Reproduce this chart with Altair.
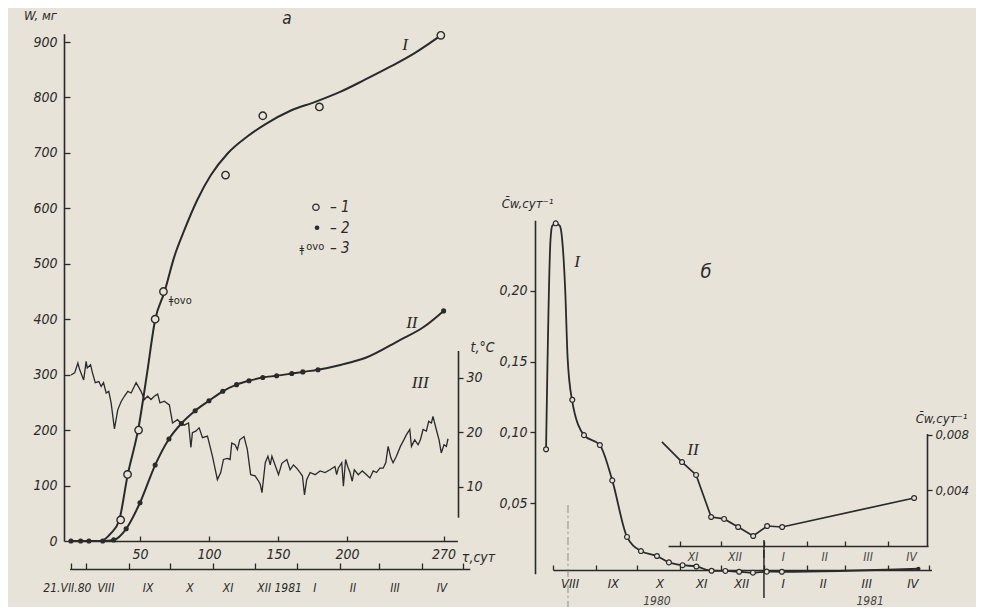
import altair as alt
import pandas as pd

# ---------------- data ----------------
# Panel a: growth curves, W (mg) vs tau (days since 21.VII.80)
I_PTS_DAY = [36, 41, 49, 61, 67, 112, 139, 180, 268]
I_PTS_W = [38, 120, 200, 400, 450, 660, 767, 783, 912]
I_FIT_DAY = [0, 21, 25, 29, 35, 41, 49, 55, 61, 67.6, 74.9, 82.2, 91.5, 101.4, 113.5, 128, 141, 159, 177, 195, 213, 231, 249, 260, 268]
I_FIT_W = [0, 0, 4, 14, 38, 118, 205, 300, 399, 448, 513, 561, 615, 660, 699, 730, 752, 776, 792, 810, 832, 855, 880, 898, 912]

II_PTS_DAY = [0, 7, 13, 23, 31, 40, 50, 61, 71, 80, 90, 100, 110, 120, 129, 139, 149, 160, 168, 179, 270]
II_PTS_W = [0, 0, 0, 0, 2, 22, 69, 137, 184, 212, 235, 253, 270, 282, 289, 295, 298, 302, 305, 309, 415]
II_FIT_DAY = [0, 23, 31, 40, 50, 61, 71, 80, 90, 100, 110, 120, 129, 139, 149, 160, 168, 179, 196, 214, 238, 255, 270]
II_FIT_W = [0, 0, 2, 22, 69, 137, 184, 212, 235, 253, 270, 282, 289, 295, 298, 302, 305, 309, 318, 331, 362, 385, 415]

# Curve III: air temperature t (deg C)
TEMP = [(0, 30.5), (2.7, 30.9), (5, 32.7), (6.3, 31.5), (9.2, 29.6), (11, 33), (11.8, 31.8),
        (14.2, 32.4), (15.6, 30.9), (17.6, 29.1), (20.2, 29.3), (21.9, 28.4), (23.6, 29.1),
        (25.5, 27.2), (27.4, 27.5), (29.1, 25.4), (31.5, 20.6), (33.9, 24.1), (36.3, 25.6),
        (38.7, 26.6), (41.2, 27.5), (43.6, 27.2), (47.2, 29.1), (50.8, 27.5), (53.2, 26),
        (55.6, 26.6), (58, 26), (60.4, 26.6), (62.8, 27), (64.5, 25.4), (67.6, 25.7), (71.3, 25),
        (73.6, 21.7), (77.2, 22.3), (79.6, 21.7), (82, 21.3), (85.2, 21.7), (86.9, 17.2),
        (88, 19.9), (90.4, 20.2), (92.9, 20.8), (95.3, 19), (98.9, 19.3), (102.5, 15.6),
        (106.1, 11.3), (108.5, 12.6), (110.5, 15), (113.4, 15.2), (115.3, 15), (116.5, 18),
        (118.9, 17.7), (120.6, 16.8), (122.3, 18.6), (125.4, 19.2), (127.8, 16.8), (130.2, 12.2),
        (133.4, 12), (136, 11), (137.2, 10.4), (138.4, 8.9), (140.8, 14.4), (142.7, 15.6),
        (144.4, 14), (145.6, 15.6), (148, 13.9), (150.4, 12.2), (152.8, 14.3), (156.4, 15),
        (158.8, 13.1), (161.2, 14), (163.6, 13.4), (166, 12.6), (167.7, 12), (169.2, 8.5),
        (170.8, 11.3), (173.3, 12.6), (176.9, 12.2), (180.5, 12.9), (184.1, 12.6), (187.7, 13.1),
        (191.3, 13.7), (192.5, 12.2), (193.7, 13.4), (196.2, 14.4), (197.4, 10.1), (199, 15),
        (200.5, 13.7), (202.2, 12.6), (203.8, 11), (205.3, 13.1), (208.2, 12.2), (211.1, 12.9),
        (214.2, 12.2), (216.6, 11.6), (219, 12.9), (221.4, 12.6), (223.8, 13.4), (226.2, 13.4),
        (228.1, 14.4), (229.8, 17.4), (231.8, 15.3), (233.4, 14.4), (235.8, 15.6), (238.7, 17.4),
        (241.2, 18.6), (243, 19.5), (245.5, 20.5), (246.7, 17.4), (249.1, 18.6), (251.5, 17.7),
        (253.2, 18.6), (255.1, 20.5), (257.5, 20.2), (259.2, 22), (261.2, 21.7), (262.3, 22.9),
        (264.7, 20.5), (266.7, 18.6), (268.3, 16.2), (270.3, 17.7), (272, 17.4), (273.2, 18.8)]

# Panel b: specific growth rate C_w (1/day)
B_PTS_DAY = [6, 13, 25, 33.5, 45, 54, 64.7, 74.8, 86.4, 95.1, 105, 115, 126, 136, 146, 156, 166, 177]
B_PTS_C = [0.088, 0.2478, 0.123, 0.098, 0.091, 0.066, 0.026, 0.016, 0.0125, 0.008, 0.006, 0.0051,
           0.0021, 0.00195, 0.00137, 0.00072, 0.00144, 0.00137]
B_LINE_DAY = [6, 9.2, 10.5, 13, 16, 17.6, 19.9, 21.6, 24.8, 33.5, 45, 54, 64.7, 74.8, 86.4, 95.1,
              105, 115, 126, 136, 146, 156, 166, 177, 276]
B_LINE_C = [0.088, 0.236, 0.246, 0.2478, 0.246, 0.237, 0.2, 0.153, 0.123, 0.098, 0.091, 0.066, 0.026,
            0.016, 0.0125, 0.008, 0.006, 0.0051, 0.0021, 0.00195, 0.00137, 0.00072, 0.00144, 0.00137, 0.0035]
B_END_DAY = [276]
B_END_C = [0.0035]

# Inset (curve II of panel b), enlarged scale
IN_LINE_DAY = [90, 104.6, 114.8, 125.7, 135.1, 145.3, 156.2, 166.3, 177.2, 272.9]
IN_LINE_C = [0.0075, 0.00605, 0.00512, 0.00209, 0.00195, 0.00137, 0.00072, 0.00144, 0.00137, 0.00346]
IN_PTS_DAY = [104.6, 114.8, 125.7, 135.1, 145.3, 156.2, 166.3, 177.2, 272.9]
IN_PTS_C = [0.00605, 0.00512, 0.00209, 0.00195, 0.00137, 0.00072, 0.00144, 0.00137, 0.00346]

# Calendar labels
MONTH_TICKS_A = [0, 11, 42, 72, 103, 133, 164, 195, 223, 254, 284]
MONTH_A_TEXT = ["21.VII.80", "VIII", "IX", "X", "XI", "XII 1981", "I", "II", "III", "IV"]
MONTH_A_DAY = [-2.6, 25.3, 55.8, 86.2, 113.8, 151.2, 176.8, 204.3, 234.8, 268.8]
MONTH_TICKS_B = [11, 42, 72, 103, 133, 164, 195, 223, 254, 284]
MONTH_B_TEXT = ["VIII", "IX", "X", "XI", "XII", "I", "II", "III", "IV"]
MONTH_B_DAY = [23.4, 54.8, 88.6, 118.8, 147.8, 178, 207, 238.5, 272]
MONTH_IN_TICKS = [103, 133, 164, 195, 223, 254]
MONTH_IN_TEXT = ["XI", "XII", "I", "II", "III", "IV"]
MONTH_IN_DAY = [112.6, 143, 178, 208, 239.5, 271]
YEAR_TEXT = ["1980", "1981"]
YEAR_DAY = [86.4, 241]
NEW_YEAR_DAY = [164]

# ---------------- style ----------------
BG = "#e7e3d8"
INK = "#2a2a2a"
SANS = "Liberation Sans Narrow, DejaVu Sans Condensed, Roboto Condensed, Liberation Sans, sans-serif"
SERIF = "Liberation Serif, DejaVu Serif, serif"
M = 8  # page margin -> plot coordinates


def sc(dom, rng):
    return alt.Scale(domain=dom, range=[r - M for r in rng], nice=False, zero=False)


# scales (range in page pixels)
XA = sc([-2, 280], [68.2, 457.4])
XAM = sc([-1, 289], [69.6, 469.8])
YW = sc([0, 915], [541, 33.7])
YT = sc([4.4, 35], [517.2, 350.5])
XB = sc([0, 290], [537.8, 937.7])
XBM = sc([11, 285.5], [553, 931.5])
XBI = sc([94.5, 283], [668.1, 928.1])
YB = sc([0, 0.25], [573.7, 220.2])
YI = sc([0, 0.0081], [546, 433.6])

W_PLOT, H_PLOT = 968, 599

AX = dict(labelFont=SANS, labelFontStyle="italic", labelColor=INK, labelFontSize=14,
          domainColor=INK, tickColor=INK, domainWidth=1.6, tickWidth=1.3, grid=False,
          titleFont=SANS, titleFontStyle="italic", titleFontWeight="normal", titleColor=INK,
          titleFontSize=13, titleAngle=0)


def ax(**kw):
    return alt.Axis(**{**AX, **kw})


def nx(field, scale):
    return alt.X(field, type="quantitative", scale=scale, axis=None)


def ny(field, scale):
    return alt.Y(field, type="quantitative", scale=scale, axis=None)


def df(**cols):
    return pd.DataFrame(cols)


layers = []

# ---- panel a ----
layers.append(
    alt.Chart(df(d=I_FIT_DAY, w=I_FIT_W)).mark_line(color=INK, strokeWidth=2, interpolate="monotone").encode(
        x=alt.X("d:Q", scale=XA, axis=ax(
            orient="bottom", offset=541 - M - H_PLOT, values=[50, 100, 150, 200, 270],
            ticks=False, labelPadding=6, title="τ,сут", titleX=478 - M, titleY=16,
            titleAlign="center", titleBaseline="middle", titleFontSize=14)),
        y=alt.Y("w:Q", scale=YW, axis=ax(
            orient="left", offset=-(64 - M), values=list(range(0, 1000, 100)),
            ticks=False, labelPadding=7, title="W, мг", titleX=-24, titleY=15 - M,
            titleAlign="center", titleBaseline="middle")),
        order="d:Q",
    )
)
# inward ticks of the W and tau axes
layers.append(
    alt.Chart(df(d=II_FIT_DAY, w=II_FIT_W)).mark_line(color=INK, strokeWidth=2, interpolate="monotone").encode(
        x=alt.X("d:Q", scale=XA, axis=ax(
            orient="top", offset=-(541 - M), values=[50, 100, 150, 200, 270], labels=False,
            domain=False, tickSize=5, title=None)),
        y=alt.Y("w:Q", scale=YW, axis=ax(
            orient="right", offset=(64 - M) - W_PLOT, values=list(range(0, 1000, 100)),
            labels=False, domain=False, tickSize=6, title=None)),
        order="d:Q")
)
layers.append(
    alt.Chart(pd.DataFrame(TEMP, columns=["d", "t"])).mark_line(color=INK, strokeWidth=1.3).encode(
        x=nx("d", XA),
        y=alt.Y("t:Q", scale=YT, axis=ax(
            orient="right", offset=(458 - M) - W_PLOT, values=[10, 20, 30], tickSize=5,
            labelPadding=3, title="t,°C", titleX=24, titleY=347 - M,
            titleAlign="center", titleBaseline="middle", titleFontSize=14)),
        order="d:Q",
    )
)
layers.append(
    alt.Chart(df(d=II_PTS_DAY, w=II_PTS_W)).mark_point(filled=True, color=INK, size=26, opacity=1).encode(
        x=nx("d", XA), y=ny("w", YW))
)
layers.append(
    alt.Chart(df(d=I_PTS_DAY, w=I_PTS_W)).mark_point(filled=True, fill=BG, stroke=INK, strokeWidth=1.4,
                                                     size=55, opacity=1).encode(
        x=nx("d", XA), y=ny("w", YW))
)
# calendar axis under panel a
layers.append(
    alt.Chart(df(d=MONTH_A_DAY, w=[-85] * len(MONTH_A_DAY), txt=MONTH_A_TEXT)).mark_text(
        font=SANS, fontStyle="italic", fontSize=12, color=INK, baseline="middle", align="center").encode(
        x=alt.X("d:Q", scale=XAM, axis=ax(
            orient="top", offset=-(569 - M), values=MONTH_TICKS_A, labels=False, title=None,
            tickSize=6)),
        y=ny("w", YW), text="txt:N")
)
# annotations panel a (curve numbers, panel letter)
layers.append(
    alt.Chart(df(d=[242, 247, 253], w=[895, 393, 285], txt=["I", "II", "III"])).mark_text(
        font=SERIF, fontStyle="italic", fontSize=17, color=INK).encode(
        x=nx("d", XA), y=ny("w", YW), text="txt:N")
)
layers.append(
    alt.Chart(df(d=[156.5], w=[933], txt=["а"])).mark_text(
        font=SANS, fontStyle="italic", fontSize=17, color=INK, baseline="alphabetic").encode(
        x=nx("d", XA), y=ny("w", YW), text="txt:N")
)
# legend
layers.append(
    alt.Chart(df(d=[177.5], w=[602])).mark_point(filled=True, fill=BG, stroke=INK, strokeWidth=1.3,
                                                 size=40, opacity=1).encode(x=nx("d", XA), y=ny("w", YW))
)
layers.append(
    alt.Chart(df(d=[178.3], w=[565])).mark_point(filled=True, color=INK, size=22, opacity=1).encode(
        x=nx("d", XA), y=ny("w", YW))
)
layers.append(
    alt.Chart(df(d=[187.7, 187.7, 187.7], w=[602, 565, 528], txt=["– 1", "– 2", "– 3"])).mark_text(
        font=SANS, fontStyle="italic", fontSize=15, color=INK, align="left", baseline="middle").encode(
        x=nx("d", XA), y=ny("w", YW), text="txt:N")
)
layers.append(
    alt.Chart(df(d=[167.2, 72.5], w=[524, 433], txt=["ǂ", "ǂ"])).mark_text(
        font=SANS, fontSize=11, color=INK, align="center", baseline="middle").encode(
        x=nx("d", XA), y=ny("w", YW), text="txt:N")
)
layers.append(
    alt.Chart(df(d=[170.5, 74.5], w=[530, 433], txt=["ovo", "ovo"])).mark_text(
        font=SANS, fontSize=11, color=INK, align="left", baseline="middle").encode(
        x=nx("d", XA), y=ny("w", YW), text="txt:N")
)

# ---- panel b ----
layers.append(
    alt.Chart(df(d=B_LINE_DAY, c=B_LINE_C)).mark_line(color=INK, strokeWidth=1.8, interpolate="monotone").encode(
        x=nx("d", XB),
        y=alt.Y("c:Q", scale=YB, axis=ax(
            orient="left", offset=-(535 - M), values=[0.05, 0.1, 0.15, 0.2],
            labelExpr="replace(format(datum.value, '.2f'), '.', ',')", tickSize=5, labelPadding=3,
            title="C̄w,сут⁻¹", titleX=-8, titleY=203 - M, titleAlign="center", titleBaseline="middle")),
        order="d:Q",
    )
)
layers.append(
    alt.Chart(df(d=B_PTS_DAY, c=B_PTS_C)).mark_point(filled=True, fill=BG, stroke=INK, strokeWidth=1.2,
                                                     size=24, opacity=1).encode(
        x=nx("d", XB), y=ny("c", YB))
)
layers.append(
    alt.Chart(df(d=B_END_DAY, c=B_END_C)).mark_point(filled=True, color=INK, size=18, opacity=1).encode(
        x=nx("d", XB), y=ny("c", YB))
)
layers.append(
    alt.Chart(df(d=MONTH_B_DAY, c=[-0.0075] * len(MONTH_B_DAY), txt=MONTH_B_TEXT)).mark_text(
        font=SANS, fontStyle="italic", fontSize=13, color=INK, baseline="middle").encode(
        x=alt.X("d:Q", scale=XBM, axis=ax(
            orient="top", offset=-(570 - M), values=MONTH_TICKS_B, labels=False, title=None,
            tickSize=5)),
        y=ny("c", YB), text="txt:N")
)
layers.append(
    alt.Chart(df(d=YEAR_DAY, c=[-0.0195, -0.0195], txt=YEAR_TEXT)).mark_text(
        font=SANS, fontStyle="italic", fontSize=12, color="#444444", baseline="middle").encode(
        x=nx("d", XB), y=ny("c", YB), text="txt:N")
)
layers.append(
    alt.Chart(df(d=NEW_YEAR_DAY, c1=[0.0168], c2=[-0.0172])).mark_rule(color=INK, strokeWidth=1.5).encode(
        x=nx("d", XB), y=ny("c1", YB), y2="c2:Q")
)
layers.append(
    alt.Chart(df(d=[21.9], c1=[0.0486], c2=[-0.03])).mark_rule(color="#777777", strokeWidth=0.8,
                                                              strokeDash=[8, 3, 2, 3]).encode(
        x=nx("d", XB), y=ny("c1", YB), y2="c2:Q")
)
layers.append(
    alt.Chart(df(d=[28.4, 112.5], c=[0.2204, 0.0875], txt=["I", "II"])).mark_text(
        font=SERIF, fontStyle="italic", fontSize=17, color=INK).encode(
        x=nx("d", XB), y=ny("c", YB), text="txt:N")
)
layers.append(
    alt.Chart(df(d=[122], c=[0.2133], txt=["б"])).mark_text(
        font=SANS, fontStyle="italic", fontSize=20, color=INK).encode(
        x=nx("d", XB), y=ny("c", YB), text="txt:N")
)

# inset
layers.append(
    alt.Chart(df(d=IN_LINE_DAY, c=IN_LINE_C)).mark_line(color=INK, strokeWidth=1.7).encode(
        x=nx("d", XB),
        y=alt.Y("c:Q", scale=YI, axis=ax(
            orient="right", offset=(927 - M) - W_PLOT, values=[0.004, 0.008],
            labelExpr="replace(format(datum.value, '.3f'), '.', ',')", tickSize=5, labelPadding=3,
            labelFontSize=13, title="C̄w,сут⁻¹", titleX=14, titleY=418 - M, titleAlign="center",
            titleBaseline="middle")),
        order="d:Q",
    )
)
layers.append(
    alt.Chart(df(d=IN_PTS_DAY, c=IN_PTS_C)).mark_point(filled=True, fill=BG, stroke=INK, strokeWidth=1.2,
                                                       size=24, opacity=1).encode(
        x=nx("d", XB), y=ny("c", YI))
)
layers.append(
    alt.Chart(df(d=MONTH_IN_DAY, c=[-0.0008] * len(MONTH_IN_DAY), txt=MONTH_IN_TEXT)).mark_text(
        font=SANS, fontStyle="italic", fontSize=12, color="#444444", baseline="middle").encode(
        x=alt.X("d:Q", scale=XBI, axis=ax(
            orient="top", offset=-(546 - M), values=MONTH_IN_TICKS, labels=False, title=None,
            tickSize=5)),
        y=ny("c", YI), text="txt:N")
)
layers.append(
    alt.Chart(df(d=NEW_YEAR_DAY, c1=[0.00043], c2=[-0.00086])).mark_rule(color=INK, strokeWidth=1.5).encode(
        x=nx("d", XB), y=ny("c1", YI), y2="c2:Q")
)

chart = alt.layer(*layers).resolve_scale(x="independent", y="independent").properties(
    width=W_PLOT, height=H_PLOT, autosize=alt.AutoSizeParams(type="none"), padding=0, background=BG
).configure_view(stroke=None)

chart.save("out.html", embed_options={"renderer": "svg", "actions": False})
